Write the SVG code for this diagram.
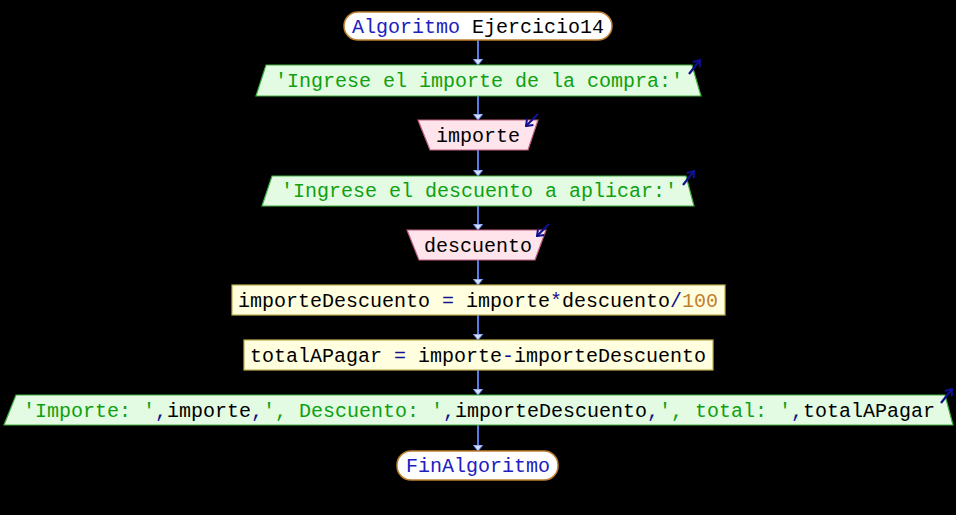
<svg xmlns="http://www.w3.org/2000/svg" width="956" height="515" viewBox="0 0 956 515">
<defs>
<style>
text{font-family:"Liberation Mono","Courier New",monospace;font-size:20px;text-anchor:middle;fill:#000}
.term{fill:#fff;stroke:#c08030;stroke-width:1.5}
.out{fill:#e2fbe2;stroke:#40b040;stroke-width:1.2}
.in{fill:#ffe4ec;stroke:#c06080;stroke-width:1.2}
.proc{fill:#ffffe0;stroke:#c0b050;stroke-width:1.2}
.kw{fill:#2020c0}
.str{fill:#10a010}
.op{fill:#101090}
.num{fill:#c08030}
.conn{stroke:#5a7ae6;stroke-width:2;fill:none;marker-end:url(#ah)}
.icon{stroke:#101090;stroke-width:2.2;fill:none}
</style>
<marker id="ah" viewBox="0 0 6 10" refX="6" refY="5" markerWidth="6" markerHeight="10" markerUnits="userSpaceOnUse" orient="auto">
<path d="M0,0 L6,5 L0,10 Z" fill="#d4e0ff" stroke="#5a7ae6" stroke-width="1"/>
</marker>
<marker id="ih" viewBox="0 0 8 10" refX="7" refY="5" markerWidth="8" markerHeight="10" markerUnits="userSpaceOnUse" orient="auto">
<path d="M1,0.5 L7,5 L1,9.5" fill="none" stroke="#101090" stroke-width="2"/>
</marker>
</defs>
<rect width="956" height="515" fill="#000"/>
<g id="connectors">
<line class="conn" x1="478" y1="40" x2="478" y2="65"/>
<line class="conn" x1="478" y1="96" x2="478" y2="120"/>
<line class="conn" x1="478" y1="150" x2="478" y2="176"/>
<line class="conn" x1="478" y1="206" x2="478" y2="230"/>
<line class="conn" x1="478" y1="260" x2="478" y2="285"/>
<line class="conn" x1="478" y1="315" x2="478" y2="340"/>
<line class="conn" x1="478" y1="370" x2="478" y2="395"/>
<line class="conn" x1="478" y1="425" x2="478" y2="451"/>
</g>
<g id="start">
<rect class="term" x="344" y="12" width="268" height="28" rx="14"/>
<text x="478" y="33"><tspan class="kw">Algoritmo</tspan> Ejercicio14</text>
</g>
<g id="out1">
<polygon class="out" points="266,65 692,65 701,96 256,96"/>
<text x="479" y="87" class="str">'Ingrese el importe de la compra:'</text>
<line class="icon" x1="689" y1="74" x2="700" y2="60" marker-end="url(#ih)"/>
</g>
<g id="in1">
<polygon class="in" points="418,120 538,120 528,150 430,150"/>
<text x="478" y="142">importe</text>
<line class="icon" x1="538" y1="114" x2="526" y2="126" marker-end="url(#ih)"/>
</g>
<g id="out2">
<polygon class="out" points="272,176 686,176 694,206 262,206"/>
<text x="479" y="197" class="str">'Ingrese el descuento a aplicar:'</text>
<line class="icon" x1="683" y1="185" x2="694" y2="171" marker-end="url(#ih)"/>
</g>
<g id="in2">
<polygon class="in" points="407,230 546,230 535,260 419,260"/>
<text x="478" y="252">descuento</text>
<line class="icon" x1="549" y1="224" x2="537" y2="236" marker-end="url(#ih)"/>
</g>
<g id="proc1">
<rect class="proc" x="232" y="285" width="493" height="30"/>
<text x="478" y="307">importeDescuento <tspan class="op">=</tspan> importe<tspan class="op">*</tspan>descuento<tspan class="op">/</tspan><tspan class="num">100</tspan></text>
</g>
<g id="proc2">
<rect class="proc" x="244" y="340" width="469" height="30"/>
<text x="478" y="362">totalAPagar <tspan class="op">=</tspan> importe<tspan class="op">-</tspan>importeDescuento</text>
</g>
<g id="out3">
<polygon class="out" points="16,395 945,395 953,425 4,425"/>
<text x="479" y="417"><tspan class="str">'Importe: '</tspan><tspan class="op">,</tspan>importe<tspan class="op">,</tspan><tspan class="str">', Descuento: '</tspan><tspan class="op">,</tspan>importeDescuento<tspan class="op">,</tspan><tspan class="str">', total: '</tspan><tspan class="op">,</tspan>totalAPagar</text>
<line class="icon" x1="941" y1="403" x2="952" y2="389" marker-end="url(#ih)"/>
</g>
<g id="end">
<rect class="term" x="397" y="451" width="161" height="29" rx="14"/>
<text x="478" y="472" class="kw">FinAlgoritmo</text>
</g>
</svg>
